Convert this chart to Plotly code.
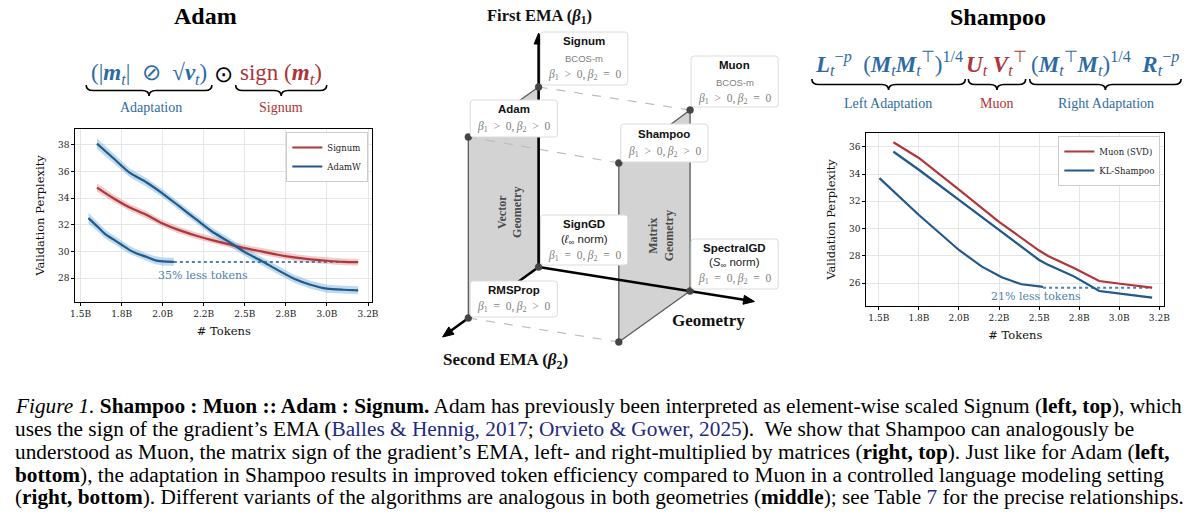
import plotly.graph_objects as go

# ---------------- data ----------------
x_tick_vals = [1.5, 1.75, 2.0, 2.25, 2.5, 2.75, 3.0, 3.25]
x_tick_text = ["1.5B", "1.8B", "2.0B", "2.2B", "2.5B", "2.8B", "3.0B", "3.2B"]
left_y_ticks = [28, 30, 32, 34, 36, 38]
right_y_ticks = [26, 28, 30, 32, 34, 36]

left_tokens = [1.60, 1.70, 1.80, 1.90, 2.00, 2.10, 2.20, 2.30, 2.40, 2.50,
               2.60, 2.70, 2.80, 2.90, 3.00, 3.10, 3.19]
signum_ppl = [34.8, 34.0, 33.3, 32.75, 32.1, 31.6, 31.2, 30.85, 30.55, 30.25,
              30.0, 29.75, 29.55, 29.4, 29.3, 29.22, 29.2]
signum_std = [0.3, 0.28, 0.27, 0.26, 0.25, 0.25, 0.25, 0.25, 0.25, 0.25,
              0.25, 0.25, 0.25, 0.25, 0.25, 0.25, 0.25]
adamw_ppl = [38.1, 37.0, 35.9, 35.2, 34.35, 33.4, 32.45, 31.5, 30.75, 29.95,
             29.3, 28.6, 27.95, 27.5, 27.2, 27.12, 27.08]
adamw_std = [0.4, 0.35, 0.33, 0.32, 0.3, 0.3, 0.3, 0.3, 0.3, 0.3,
             0.3, 0.3, 0.3, 0.3, 0.3, 0.3, 0.3]
adamw_short_tokens = [1.548, 1.60, 1.65, 1.70, 1.75, 1.80, 1.85, 1.90, 1.95, 2.00, 2.068]
adamw_short_ppl = [32.5, 31.9, 31.3, 30.9, 30.5, 30.1, 29.8, 29.6, 29.35, 29.25, 29.22]
adamw_short_std = [0.4, 0.35, 0.33, 0.32, 0.3, 0.3, 0.3, 0.3, 0.3, 0.3, 0.3]

right_tokens = [1.591, 1.75, 2.0, 2.25, 2.5, 2.556, 2.72, 2.875, 3.03, 3.205]
muon_ppl = [36.32, 35.17, 32.85, 30.5, 28.4, 28.0, 27.1, 26.17, 25.93, 25.68]
klshampoo_ppl = [35.63, 34.31, 32.11, 29.91, 27.71, 27.35, 26.49, 25.44, 25.22, 24.95]
klshampoo_std = [0.15, 0.1, 0.08, 0.08, 0.08, 0.08, 0.08, 0.08, 0.08, 0.08]
kl_short_tokens = [1.504, 1.60, 1.75, 2.0, 2.143, 2.267, 2.39, 2.514, 2.525]
kl_short_ppl = [33.7, 32.65, 31.0, 28.44, 27.22, 26.44, 25.93, 25.76, 25.73]

left_gain_label = "35% less tokens"
right_gain_label = "21% less tokens"

# ---------------- style ----------------
OX, OY = 0, 0
W, H = 1200, 518
RED = "#b0363a"
BLUE = "#22598a"
RED_BAND = "rgba(205,110,110,0.35)"
BLUE_BAND = "rgba(110,175,215,0.45)"
GAIN_COLOR = "#4f7fae"
F_BLUE = "#2e6aa2"
F_RED = "#ad3438"
SERIF = "Liberation Serif"
MPL = "DejaVu Serif"
SANS = "Liberation Sans"

fig = go.Figure()


def band(x, y, s, color, xa, ya):
    up = [a + b for a, b in zip(y, s)]
    lo = [a - b for a, b in zip(y, s)]
    return go.Scatter(x=list(x) + list(x)[::-1], y=up + lo[::-1], fill="toself",
                      fillcolor=color, line=dict(width=0), hoverinfo="skip",
                      showlegend=False, xaxis=xa, yaxis=ya, mode="lines")


# overlay canvas (page pixel coordinates) for the diagram / text
fig.add_trace(go.Scatter(x=[OX], y=[OY], mode="markers", marker=dict(opacity=0),
                         showlegend=False, hoverinfo="skip", xaxis="x3", yaxis="y3"))

# left chart
fig.add_trace(band(left_tokens, signum_ppl, signum_std, RED_BAND, "x", "y"))
fig.add_trace(band(left_tokens, adamw_ppl, adamw_std, BLUE_BAND, "x", "y"))
fig.add_trace(band(adamw_short_tokens, adamw_short_ppl, adamw_short_std, BLUE_BAND, "x", "y"))
fig.add_trace(go.Scatter(x=[adamw_short_tokens[-1], left_tokens[-1]],
                         y=[signum_ppl[-1], signum_ppl[-1]], mode="lines",
                         line=dict(color=GAIN_COLOR, width=2, dash="dot"),
                         showlegend=False, xaxis="x", yaxis="y"))
fig.add_trace(go.Scatter(x=left_tokens, y=signum_ppl, mode="lines", name="Signum",
                         line=dict(color=RED, width=2.2, shape="spline", smoothing=0.6),
                         xaxis="x", yaxis="y", legend="legend"))
fig.add_trace(go.Scatter(x=left_tokens, y=adamw_ppl, mode="lines", name="AdamW",
                         line=dict(color=BLUE, width=2.2, shape="spline", smoothing=0.6),
                         xaxis="x", yaxis="y", legend="legend"))
fig.add_trace(go.Scatter(x=adamw_short_tokens, y=adamw_short_ppl, mode="lines",
                         line=dict(color=BLUE, width=2.2, shape="spline", smoothing=0.6),
                         showlegend=False, xaxis="x", yaxis="y"))

# right chart
fig.add_trace(band(right_tokens, klshampoo_ppl, klshampoo_std, BLUE_BAND, "x2", "y2"))
fig.add_trace(go.Scatter(x=[kl_short_tokens[-1], right_tokens[-1]],
                         y=[muon_ppl[-1], muon_ppl[-1]], mode="lines",
                         line=dict(color=GAIN_COLOR, width=2, dash="dot"),
                         showlegend=False, xaxis="x2", yaxis="y2"))
fig.add_trace(go.Scatter(x=right_tokens, y=muon_ppl, mode="lines", name="Muon (SVD)",
                         line=dict(color=RED, width=2.2), xaxis="x2", yaxis="y2",
                         legend="legend2"))
fig.add_trace(go.Scatter(x=right_tokens, y=klshampoo_ppl, mode="lines", name="KL-Shampoo",
                         line=dict(color=BLUE, width=2.2), xaxis="x2", yaxis="y2",
                         legend="legend2"))
fig.add_trace(go.Scatter(x=kl_short_tokens, y=kl_short_ppl, mode="lines",
                         line=dict(color=BLUE, width=2.2), showlegend=False,
                         xaxis="x2", yaxis="y2"))


def ax_style(domain, rng, anchor, tickvals=None, ticktext=None, title=None, standoff=8):
    d = dict(domain=domain, range=rng, anchor=anchor, showline=True, mirror=True,
             linecolor="black", linewidth=1, ticks="outside", ticklen=3, tickwidth=1,
             tickcolor="black", showgrid=True, gridcolor="#e6e6e6", gridwidth=1,
             zeroline=False, tickfont=dict(family=MPL, size=9, color="#222"),
             fixedrange=True)
    if tickvals is not None:
        d["tickvals"] = tickvals
    if ticktext is not None:
        d["ticktext"] = ticktext
    if title:
        d["title"] = dict(text=title, font=dict(family=MPL, size=11.5, color="#111"),
                          standoff=standoff)
    return d


def fx(px):
    return (px - OX) / W


def fy(py):
    return 1 - (py - OY) / H


layout = dict(
    width=W, height=H, autosize=False,
    margin=dict(l=0, r=0, t=0, b=0),
    paper_bgcolor="white", plot_bgcolor="rgba(0,0,0,0)",
    xaxis=ax_style([fx(71), fx(371)], [1.468, 3.276], "y", x_tick_vals, x_tick_text, "# Tokens", 9),
    yaxis=ax_style([fy(302), fy(129)], [26.2, 39.2], "x", left_y_ticks, None, "Validation Perplexity", 11),
    xaxis2=ax_style([fx(870), fx(1171)], [1.422, 3.281], "y2", x_tick_vals, x_tick_text, "# Tokens", 9),
    yaxis2=ax_style([fy(306), fy(133)], [24.34, 37.0], "x2", right_y_ticks, None, "Validation Perplexity", 11),
    xaxis3=dict(domain=[0, 1], range=[OX, OX + W], anchor="y3", visible=False, fixedrange=True),
    yaxis3=dict(domain=[0, 1], range=[OY + H, OY], anchor="x3", visible=False, fixedrange=True),
    legend=dict(x=fx(367), y=fy(132), xanchor="right", yanchor="top",
                bgcolor="white", bordercolor="#cccccc", borderwidth=1,
                font=dict(family=MPL, size=8.5, color="#222"), itemwidth=30,
                tracegroupgap=0),
    legend2=dict(x=fx(1167), y=fy(136), xanchor="right", yanchor="top",
                 bgcolor="white", bordercolor="#cccccc", borderwidth=1,
                 font=dict(family=MPL, size=8.5, color="#222"), itemwidth=30,
                 tracegroupgap=0),
)
fig.update_layout(**layout)

shapes = []
annots = []


def ann(x, y, text, size, color="black", family=SERIF, **kw):
    d = dict(x=x, y=y, xref="x3", yref="y3", text=text, showarrow=False,
             font=dict(family=family, size=size, color=color),
             xanchor=kw.pop("xanchor", "center"), yanchor=kw.pop("yanchor", "middle"))
    d.update(kw)
    annots.append(d)


def line(p0, p1, color, width, dash="solid"):
    shapes.append(dict(type="line", xref="x3", yref="y3", x0=p0[0], y0=p0[1],
                       x1=p1[0], y1=p1[1], line=dict(color=color, width=width, dash=dash),
                       layer="above"))


def poly(pts, fill, lc, lw):
    path = "M " + " L ".join(f"{x},{y}" for x, y in pts) + " Z"
    shapes.append(dict(type="path", xref="x3", yref="y3", path=path, fillcolor=fill,
                       line=dict(color=lc, width=lw), layer="above"))


def brace(x0, x1, y0, h=11):
    m = (x0 + x1) / 2
    r = 7
    yh = y0 + h / 2
    path = (f"M {x0},{y0} Q {x0},{yh} {x0 + r},{yh} L {m - r},{yh} Q {m},{yh} {m},{y0 + h} "
            f"Q {m},{yh} {m + r},{yh} L {x1 - r},{yh} Q {x1},{yh} {x1},{y0}")
    shapes.append(dict(type="path", xref="x3", yref="y3", path=path,
                       line=dict(color="black", width=1.6), layer="above"))


def arrow_head(tip, frm, length=11, width=9):
    dx, dy = tip[0] - frm[0], tip[1] - frm[1]
    n = (dx * dx + dy * dy) ** 0.5
    ux, uy = dx / n, dy / n
    bx, by = tip[0] - ux * length, tip[1] - uy * length
    px_, py_ = -uy * width / 2, ux * width / 2
    poly([tip, (bx + px_, by + py_), (bx - px_, by - py_)], "black", "black", 1)


def rbox(x0, y0, x1, y1, r=3):
    path = (f"M {x0 + r},{y0} L {x1 - r},{y0} Q {x1},{y0} {x1},{y0 + r} L {x1},{y1 - r} "
            f"Q {x1},{y1} {x1 - r},{y1} L {x0 + r},{y1} Q {x0},{y1} {x0},{y1 - r} "
            f"L {x0},{y0 + r} Q {x0},{y0} {x0 + r},{y0} Z")
    shapes.append(dict(type="path", xref="x3", yref="y3", path=path, fillcolor="white",
                       line=dict(color="#dcdcdc", width=1), layer="above"))


# ---------------- middle diagram ----------------
P = dict(signum=(539, 87), muon=(692, 110), adam=(468, 137), shampoo=(620, 163),
         origin=(539, 267), spectral=(692, 291), rmsprop=(468, 318), bottom=(620, 342))
PLANE = "#d3d3d3"
EDGE = "#5a5a5a"
poly([P["signum"], P["adam"], P["rmsprop"], P["origin"]], PLANE, EDGE, 1.3)
poly([P["muon"], P["shampoo"], P["bottom"], P["spectral"]], PLANE, EDGE, 1.3)
for a, b in [("signum", "muon"), ("adam", "shampoo"), ("rmsprop", "bottom")]:
    line(P[a], P[b], "#bdbdbd", 1.2, "dash")
tip_up = (539, 33)
tip_geo = (757, 301.5)
tip_b2 = (442, 337)
line(P["origin"], (539, 42), "black", 2.6)
line(P["origin"], (748, 300), "black", 2.6)
line(P["origin"], (450, 331), "black", 2.6)
arrow_head(tip_up, P["origin"])
arrow_head(tip_geo, P["origin"])
arrow_head(tip_b2, P["origin"])
for k, (x, y) in P.items():
    shapes.append(dict(type="circle", xref="x3", yref="y3", x0=x - 3.5, x1=x + 3.5,
                       y0=y - 3.5, y1=y + 3.5, fillcolor="#454545",
                       line=dict(color="#454545", width=0.5), layer="above"))

ann(510, 212, "<b>Vector<br>Geometry</b>", 12, "#4a4a4a", textangle=-90)
ann(663, 236, "<b>Matrix<br>Geometry</b>", 12, "#4a4a4a", textangle=-90)

GREY = "#808080"
SP = "\u2002"  # en space, mimics math spacing around relations


def beta_rel(r1, r2):
    return f"<i>β</i><sub>1</sub>{SP}{r1}{SP}0,\u2009<i>β</i><sub>2</sub>{SP}{r2}{SP}0"


B_GT_GT = beta_rel("&gt;", "&gt;")
B_GT_EQ = beta_rel("&gt;", "=")
B_EQ_EQ = beta_rel("=", "=")
B_EQ_GT = beta_rel("=", "&gt;")
BS = 11.5
boxes = [
    # x0, y0, x1, y1, [(y, text, size, color, family)]
    (541, 32, 629, 85, [(41, "<b>Signum</b>", 11.5, "#111", SANS), (58, "BCOS-m", 9.5, GREY, SANS),
                        (75, B_GT_EQ, BS, GREY, SERIF)]),
    (693, 56, 781, 107, [(65, "<b>Muon</b>", 11.5, "#111", SANS), (82, "BCOS-m", 9.5, GREY, SANS),
                         (99, B_GT_EQ, BS, GREY, SERIF)]),
    (470, 100, 558, 137, [(109, "<b>Adam</b>", 11.5, "#111", SANS), (127, B_GT_GT, BS, GREY, SERIF)]),
    (622, 124, 710, 162, [(134, "<b>Shampoo</b>", 11.5, "#111", SANS), (152, B_GT_GT, BS, GREY, SERIF)]),
    (541, 215, 629, 265, [(224, "<b>SignGD</b>", 11.5, "#111", SANS),
                          (239.5, "(<i>ℓ</i><sub>∞</sub> norm)", 11.5, "#222", SANS),
                          (256, B_EQ_EQ, BS, GREY, SERIF)]),
    (693, 239, 781, 289, [(248, "<b>SpectralGD</b>", 11.5, "#111", SANS),
                          (263, "(<i>S</i><sub>∞</sub> norm)", 11.5, "#222", SANS),
                          (279, B_EQ_EQ, BS, GREY, SERIF)]),
    (470, 281, 558, 317, [(290, "<b>RMSProp</b>", 11.5, "#111", SANS), (307, B_EQ_GT, BS, GREY, SERIF)]),
]
for x0, y0, x1, y1, texts in boxes:
    rbox(x0, y0, x1, y1)
    for ty, t, s, c, fam in texts:
        ann((x0 + x1) / 2, ty, t, s, c, fam)

ann(540, 16, "<b>First EMA (<i>β</i><sub>1</sub>)</b>", 16.5, "#111")
ann(711, 320, "<b>Geometry</b>", 17, "#111")
ann(506, 361, "<b>Second EMA (<i>β</i><sub>2</sub>)</b>", 17, "#111")

# ---------------- titles and formulas ----------------
ann(203, 16, "<b>Adam</b>", 24, "black")
ann(1003, 17, "<b>Shampoo</b>", 24, "black")

m_t = "<b><i>m</i></b><sub><i>t</i></sub>"
v_t = "<b><i>v</i></b><sub><i>t</i></sub>"
ann(145.5, 74, f"(|{m_t}|  ⊘  √{v_t})", 23, F_BLUE)
ann(221, 74, "⊙", 23, "black")
ann(279, 74, f"sign ({m_t})", 23, F_RED)
brace(82, 209, 85)
brace(233, 325, 85)
ann(147, 107, "Adaptation", 14, F_BLUE)
ann(279, 107, "Signum", 14, F_RED)

Mt = "<b><i>M</i></b><sub><i>t</i></sub>"
MtT = "<b><i>M</i></b><sub><i>t</i></sub><sup>⊤</sup>"
ann(892.5, 63, f"<b><i>L</i></b><sub><i>t</i></sub><sup>−<i>p</i></sup>  ({Mt}{MtT})<sup>1/4</sup>", 23, F_BLUE)
ann(1002, 63, "<b><i>U</i></b><sub><i>t</i></sub> <b><i>V</i></b><sub><i>t</i></sub><sup>⊤</sup>", 23, F_RED)
ann(1111.5, 63, f"({MtT}{Mt})<sup>1/4</sup>  <b><i>R</i></b><sub><i>t</i></sub><sup>−<i>p</i></sup>", 23, F_BLUE)
brace(815, 970, 79)
brace(973, 1031, 79)
brace(1035, 1188, 79)
ann(892, 103, "Left Adaptation", 14, F_BLUE)
ann(1002, 103, "Muon", 14, F_RED)
ann(1112, 103, "Right Adaptation", 14, F_BLUE)

# gain labels inside charts
annots.append(dict(x=2.244, y=28.2, xref="x", yref="y", text=left_gain_label, showarrow=False,
                   font=dict(family=MPL, size=11, color=GAIN_COLOR)))
annots.append(dict(x=2.479, y=25.07, xref="x2", yref="y2", text=right_gain_label, showarrow=False,
                   font=dict(family=MPL, size=11, color=GAIN_COLOR)))

# ---------------- caption ----------------
CITE = "#1f2a80"
caption_lines = [
    "<i>Figure 1.</i> <b>Shampoo : Muon :: Adam : Signum.</b> Adam has previously been interpreted as element-wise scaled Signum (<b>left, top</b>), which",
    f"uses the sign of the gradient’s EMA (<span style='color:{CITE}'>Balles &amp; Hennig, 2017</span>; <span style='color:{CITE}'>Orvieto &amp; Gower, 2025</span>).  We show that Shampoo can analogously be",
    "understood as Muon, the matrix sign of the gradient’s EMA, left- and right-multiplied by matrices (<b>right, top</b>). Just like for Adam (<b>left,</b>",
    "<b>bottom</b>), the adaptation in Shampoo results in improved token efficiency compared to Muon in a controlled language modeling setting",
    f"(<b>right, bottom</b>). Different variants of the algorithms are analogous in both geometries (<b>middle</b>); see Table <span style='color:{CITE}'>7</span> for the precise relationships.",
]
caption_y = [406, 429, 452, 475, 497]
for t, y in zip(caption_lines, caption_y):
    ann(8, y, t, 21.3, "black", SERIF, xanchor="left")

fig.update_layout(shapes=shapes, annotations=annots)
fig.write_html("out.html", config={"displayModeBar": False},
               post_script="document.body.style.margin='0';document.body.style.overflow='hidden';")
